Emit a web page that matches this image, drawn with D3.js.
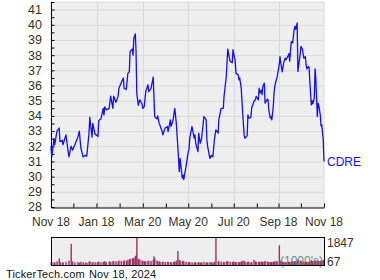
<!DOCTYPE html>
<html>
<head>
<meta charset="utf-8">
<script src="https://cdn.jsdelivr.net/npm/d3@7"></script>
<style>
  body { margin: 0; background: #fff; }
  text { font-family: "Liberation Sans", Arial, sans-serif; }
</style>
</head>
<body>
<div id="chart"></div>
<script>
// days after 2023-11-18, close price and volume (1000's)
const dayOffsets = [
    0,1,4,5,8,11,12,15,16,20,24,27,29,32,36,38,40,43,46,48,51,52,55,56,59,62,
    63,64,67,70,71,72,74,78,80,83,84,87,90,91,94,97,98,101,103,105,106,109,110,111,113,114,115,117,119,122,123,125,
    127,130,131,134,137,138,139,142,143,145,146,149,150,153,156,157,160,161,164,165,166,168,170,172,173,176,177,178,181,184,185,
    186,189,192,193,194,197,198,200,202,205,208,209,210,213,215,217,219,221,224,225,228,231,232,235,237,240,243,244,245,
    247,248,251,252,253,255,257,259,260,263,264,265,268,269,272,274,275,278,279,280,282,283,284,286,287,290,291,292,294,295,296,298,299,300,302,303,306,307,
    308,310,312,314,315,318,319,320,322,323,324,326,327,328,330,331,334,335,337,339,341,342,343,345,346,347,349,350,351,353,354,355,357,358,359,361,362,363,365,366
];
const closes = [
    32.0,31.3,32.5,32.1,33.0,33.2,32.3,32.4,32.1,32.75,31.3,32.0,31.75,32.1,32.6,33.0,31.9,31.3,31.4,31.35,32.9,33.9,32.6,33.5,32.8,32.7,
    32.64,33.7,33.8,34.5,34.07,34.6,34.4,34.5,35.3,34.5,35.3,34.9,35.3,35.8,36.16,36.5,35.8,35.75,36.8,36.9,38.25,38.4,38.0,39.1,39.4,38.3,35.5,34.7,35.06,34.8,34.5,34.6,
    35.6,36.05,35.6,35.8,36.56,35.3,33.96,33.8,34.0,33.5,33.4,32.97,32.75,33.2,33.3,32.97,33.74,33.3,33.8,34.2,34.5,33.5,32.0,30.33,31.2,29.9,30.1,29.8,30.66,31.65,31.76,
    32.53,33.3,32.53,32.75,32.2,31.65,32.86,32.2,32.53,33.96,33.74,32.42,32.0,31.2,31.4,31.3,32.4,33.08,32.86,33.74,34.5,34.5,35.28,36.6,38.4,37.6,37.5,38.36,38.1,
    37.6,36.8,36.7,36.38,36.5,35.83,34.18,32.7,32.53,32.7,34.07,33.86,33.9,34.5,34.95,35.06,35.28,35.06,35.83,35.5,35.7,35.4,35.94,36.16,34.84,35.1,35.06,34.4,33.86,33.96,33.74,34.6,35.5,35.94,36.38,36.5,37.37,37.9,
    37.5,36.9,37.5,37.8,37.7,37.97,38.1,37.6,38.85,38.9,38.8,39.7,39.9,39.7,40.12,36.93,38.03,38.58,38.4,37.8,37.9,37.37,37.1,37.25,37.2,36.27,34.73,35.0,34.8,35.17,37.1,36.5,33.96,34.84,34.7,34.07,33.35,33.4,32.42,31.0
];
const volumes = [
    180,150,200,170,250,450,220,160,190,210,300,1450,250,180,200,160,220,190,170,150,230,260,180,200,190,170,
    200,240,180,210,230,260,200,250,220,270,240,260,230,300,280,250,320,290,350,380,420,460,400,500,600,650,1847,420,380,300,280,260,
    250,300,260,280,350,600,450,300,260,240,220,200,230,210,190,220,200,180,210,190,230,300,950,350,300,280,250,240,220,200,190,
    200,180,170,190,160,180,200,170,190,210,180,170,160,200,180,170,220,1847,260,240,230,210,200,250,270,220,200,230,210,
    220,200,190,180,200,240,300,260,220,200,230,210,190,200,350,240,220,200,230,210,190,250,220,200,280,230,210,190,200,180,220,210,240,230,260,250,1350,300,
    250,230,210,200,190,220,200,210,230,240,220,260,250,240,230,380,300,260,240,220,210,230,200,190,210,250,330,280,260,240,300,270,320,280,260,290,270,300,330,360
];

const majorTicks = ["2023-11-18","2024-01-18","2024-03-20","2024-05-20","2024-07-20","2024-09-18","2024-11-18"];
const minorTicks = ["2023-12-18","2024-02-18","2024-04-20","2024-06-20","2024-08-20","2024-10-18"];
const tickLabels = ["Nov 18","Jan 18","Mar 20","May 20","Jul 20","Sep 18","Nov 18"];
const priceTicks = [28,29,30,31,32,33,34,35,36,37,38,39,40,41];
const volumeLabels = [1847, 67];
const symbol = "CDRE";
const footerParts = ["TickerTech.com", "Nov 18, 2024"];

const textColor = "#3d3117";
const lineColor = "#1010f0";
const volColor = "#993366";
const plotBg = "#eeeeee";
const gridColor = "#dadada";

const parse = d3.timeParse("%Y-%m-%d");
const start = parse("2023-11-18");
const end = parse("2024-11-18");

const data = dayOffsets.map((d, i) => ({
    date: d3.timeDay.offset(start, d),
    close: closes[i],
    volume: volumes[i]
}));

const svg = d3.select("#chart")
    .append("svg")
    .attr("width", 380)
    .attr("height", 280);

const left = 51, right = 324;
const x = d3.scaleTime().domain([start, end]).range([left, right]);
const y = d3.scaleLinear().domain([28, 41.5]).range([207, 2]);

// plot background
svg.append("rect")
    .attr("x", left).attr("y", y(41.5))
    .attr("width", right - left).attr("height", y(28) - y(41.5))
    .style("fill", plotBg)
    .style("stroke", gridColor);

// grid
svg.append("g").selectAll("line").data(priceTicks.slice(1)).enter().append("line")
    .attr("x1", left).attr("x2", right)
    .attr("y1", d => y(d) + 0.5).attr("y2", d => y(d) + 0.5)
    .style("stroke", gridColor);

svg.append("g").selectAll("line").data(majorTicks.slice(1, -1)).enter().append("line")
    .attr("x1", d => Math.round(x(parse(d))) + 0.5).attr("x2", d => Math.round(x(parse(d))) + 0.5)
    .attr("y1", y(41.5)).attr("y2", y(28))
    .style("stroke", gridColor);

// y axis
const yAxis = svg.append("g")
    .attr("transform", "translate(" + (left + 0.5) + ",0)")
    .call(d3.axisRight(y)
        .tickValues(d3.range(28, 41.51, 0.5))
        .tickSize(3)
        .tickFormat(""));
yAxis.select(".domain").attr("d", "M0," + y(41.5) + "V" + (y(28) + 0.5));

svg.append("g").selectAll("text").data(priceTicks).enter().append("text")
    .text(d => d)
    .attr("x", 42)
    .attr("y", d => y(d))
    .attr("dy", "0.35em")
    .attr("text-anchor", "end")
    .style("font-size", "12.5px")
    .style("fill", textColor);

// x axis
svg.append("g")
    .attr("transform", "translate(0," + (y(28) + 0.5) + ")")
    .call(d3.axisTop(x)
        .tickValues(majorTicks.concat(minorTicks).map(parse))
        .tickSize(4)
        .tickSizeOuter(0)
        .tickFormat(""));

svg.append("g").selectAll("text").data(majorTicks).enter().append("text")
    .text((d, i) => tickLabels[i])
    .attr("x", d => x(parse(d)))
    .attr("y", 226)
    .attr("text-anchor", "middle")
    .style("font-size", "12px")
    .style("fill", textColor);

// price line
const line = d3.line()
    .x(d => x(d.date))
    .y(d => y(d.close));

svg.append("path")
    .datum(data)
    .attr("d", line)
    .style("fill", "none")
    .style("stroke", lineColor)
    .style("stroke-width", 1.3)
    .style("stroke-linejoin", "round");

svg.append("text")
    .text(symbol)
    .attr("x", 327)
    .attr("y", y(closes[closes.length - 1]))
    .attr("dy", "0.35em")
    .style("font-size", "12px")
    .style("fill", lineColor);

// volume panel
const vTop = 237, vBottom = 265;
const yv = d3.scaleLinear().domain([0, 1847]).range([vBottom, vTop + 1]);

svg.append("rect")
    .attr("x", left + 0.5).attr("y", vTop + 0.5)
    .attr("width", right - left).attr("height", vBottom - vTop)
    .style("fill", plotBg);

svg.append("g").selectAll("rect").data(data).enter().append("rect")
    .attr("x", d => x(d.date) - 0.6)
    .attr("width", 1.4)
    .attr("y", d => yv(d.volume))
    .attr("height", d => vBottom - yv(d.volume))
    .style("fill", volColor);

svg.append("text")
    .text("(1000's)")
    .attr("x", right - 1)
    .attr("y", vBottom - 0.5)
    .attr("text-anchor", "end")
    .style("font-size", "12px")
    .style("fill", "#5a7a66")
    .style("opacity", 0.85);

svg.append("rect")
    .attr("x", left + 0.5).attr("y", vTop + 0.5)
    .attr("width", right - left).attr("height", vBottom - vTop)
    .style("fill", "none")
    .style("stroke", "#000");

svg.append("g").selectAll("text").data(volumeLabels).enter().append("text")
    .text(d => d)
    .attr("x", 327)
    .attr("y", (d, i) => i == 0 ? 247 : 266)
    .style("font-size", "12px")
    .style("fill", textColor);

svg.append("g").selectAll("text").data(footerParts).enter().append("text")
    .text(d => d)
    .attr("x", (d, i) => i == 0 ? 6 : 89)
    .attr("y", 278)
    .style("font-size", "11px")
    .style("letter-spacing", "0.15px")
    .style("fill", "#111");
</script>
</body>
</html>
